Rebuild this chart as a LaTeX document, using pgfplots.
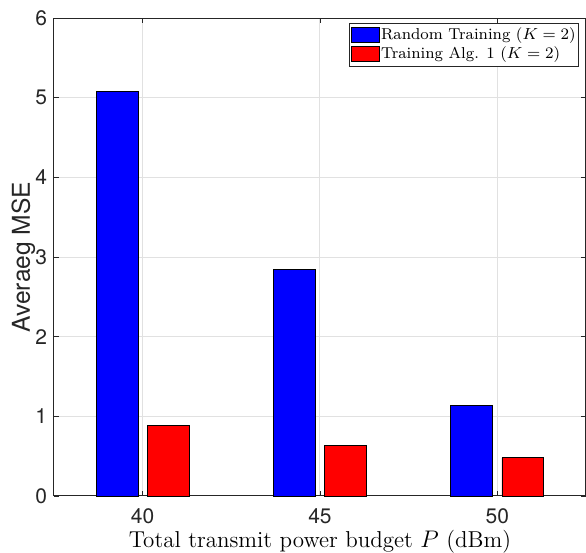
\documentclass[border=0pt]{standalone}
\usepackage{fontspec}
\newfontfamily\helv{TeX Gyre Heros}
\usepackage{pgfplots}
\pgfplotsset{compat=1.18}
\definecolor{axgray}{RGB}{38,38,38}
\definecolor{gridgray}{RGB}{225,225,225}
\begin{document}
\begin{tikzpicture}
\begin{axis}[
  scale only axis,
  width=266pt, height=239pt,
  xmin=37.5, xmax=52.5,
  ymin=0, ymax=6,
  xtick={40,45,50},
  ytick={0,1,2,3,4,5,6},
  tick align=inside,
  major tick length=2.5pt,
  tick style={axgray, line width=0.4pt},
  axis line style={axgray, line width=0.5pt},
  grid=major,
  major grid style={gridgray, line width=0.5pt},
  /pgf/number format/assume math mode=true,
  ticklabel style={font=\helv\fontsize{10.5}{12}\selectfont, text=axgray},
  xticklabel style={yshift=-3pt},
  xlabel={Total transmit power budget $P$ (dBm)},
  ylabel={\helv Averaeg MSE},
  xlabel style={font=\fontsize{11.5}{13}\selectfont, yshift=4pt},
  ylabel style={font=\fontsize{12.3}{14}\selectfont, text=axgray, yshift=-6.8pt},
  legend style={at={(rel axis cs:0.987,0.9895)}, anchor=north east, font=\fontsize{7.9}{9}\selectfont,
    draw=axgray, line width=0.4pt, inner xsep=1pt, inner ysep=1.75pt, row sep=1pt,
    nodes={inner sep=0.5pt}},
  legend cell align=left,
  legend image code/.code={\draw[#1, draw=black, line width=0.4pt] (0cm,-0.132cm) rectangle (0.49cm,0.132cm);},
  bar width=1.18,
  clip=false,
]
\addplot[ybar, fill={rgb,1:red,0;green,0;blue,1}, draw=black, line width=0.4pt, bar shift=-0.72] coordinates {(40,5.08) (45,2.84) (50,1.14)};
\addlegendentry{Random Training ($K=2$)}
\addplot[ybar, fill={rgb,1:red,1;green,0;blue,0}, draw=black, line width=0.4pt, bar shift=0.72] coordinates {(40,0.88) (45,0.63) (50,0.48)};
\addlegendentry{Training Alg. 1 ($K=2$)}
\end{axis}
\pgfresetboundingbox
\path[use as bounding box] (current axis.south west) ++(-27pt,-28.5pt) rectangle ++(293pt,276.5pt);
\end{tikzpicture}
\end{document}
